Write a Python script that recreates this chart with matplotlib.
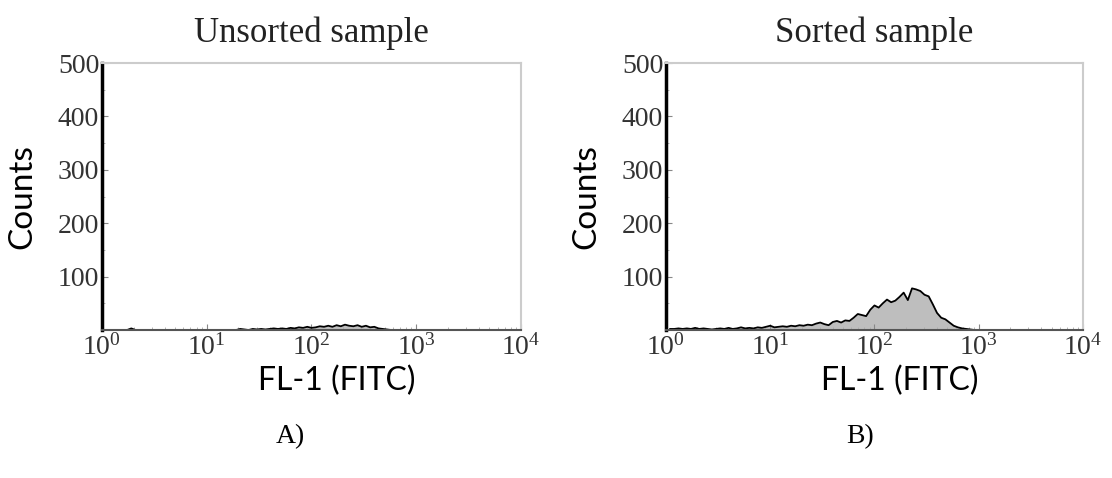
import matplotlib
matplotlib.use("Agg")
import matplotlib.pyplot as plt
import numpy as np

plt.rcParams['mathtext.fontset'] = 'custom'
plt.rcParams['mathtext.rm'] = 'Liberation Serif'
plt.rcParams['mathtext.it'] = 'Liberation Serif:italic'

# Гистограммы флуоресценции (лог-шаг каналов 0.04 декады, от 10^0)
channel_log = np.arange(0, 3.0, 0.04)

unsorted_counts = [520, 0, 0, 0, 0, 0, 0, 3, 0, 0,
                   0, 0, 0, 0, 0, 0, 0, 0, 0, 0,
                   0, 0, 0, 0, 0, 0, 0, 0, 0, 0,
                   0, 0, 0, 2, 1, 0, 2, 1, 2, 1,
                   2, 3, 2, 3, 2, 4, 3, 5, 4, 6,
                   4, 5, 7, 6, 8, 6, 9, 7, 10, 8,
                   7, 9, 6, 8, 5, 6, 3, 2, 1, 0,
                   0, 0, 0, 0, 0]

sorted_counts = [3, 2, 2, 3, 2, 3, 2, 4, 2, 3,
                 2, 1, 2, 3, 2, 4, 2, 3, 5, 3,
                 4, 3, 5, 4, 6, 8, 5, 6, 7, 6,
                 8, 7, 9, 8, 10, 9, 12, 14, 11, 9,
                 15, 17, 14, 18, 17, 23, 30, 28, 26, 38,
                 46, 42, 50, 57, 52, 55, 62, 70, 56, 78,
                 76, 73, 66, 63, 48, 32, 23, 20, 14, 8,
                 5, 3, 2, 1, 0]

titles = ['Unsorted sample', 'Sorted sample']
panel_labels = ['A)', 'B)']
y_ticks = [100, 200, 300, 400, 500]
x_ticks = [1, 10, 100, 1000, 10000]
x_tick_labels = ['$10^{0}$', '$10^{1}$', '$10^{2}$', '$10^{3}$', '$10^{4}$']

fig = plt.figure(figsize=(11.12, 4.78), dpi=100)
positions = [[0.0917, 0.3096, 0.3768, 0.5586],
             [0.5989, 0.3096, 0.3750, 0.5586]]
label_x = [0.45, 0.465]

x_vals = 10 ** channel_log
for pos, counts, title, plabel, lx in zip(positions, [unsorted_counts, sorted_counts],
                                          titles, panel_labels, label_x):
    ax = fig.add_axes(pos)
    # первый канал (10^0) рисуем вертикальной линией, остальные — ломаной
    ax.vlines(x_vals[0], 0, counts[0], color='black', linewidth=2)
    ax.fill_between(x_vals[1:], counts[1:], color='#bebebe', linewidth=0)
    ax.plot(x_vals[1:], counts[1:], color='black', linewidth=1.3)

    ax.set_xscale('log')
    ax.set_xlim(1, 10000)
    ax.set_ylim(0, 500)
    ax.set_xticks(x_ticks)
    ax.set_xticklabels(x_tick_labels)
    ax.set_yticks(y_ticks)
    ax.set_yticks(np.arange(0, 501, 50), minor=True)

    ax.tick_params(axis='both', which='major', direction='in', length=4,
                   color='#888888', labelsize=20, labelcolor='#333333', pad=2)
    ax.tick_params(axis='both', which='minor', direction='in', length=2,
                   color='#aaaaaa')
    for lab in ax.get_yticklabels():
        lab.set_fontfamily('Liberation Serif')

    # Рамка: левая ось толстая чёрная, остальные светло-серые
    ax.spines['left'].set_color('black')
    ax.spines['left'].set_linewidth(2.5)
    ax.spines['bottom'].set_color('#555555')
    ax.spines['bottom'].set_linewidth(1.5)
    for side in ['top', 'right']:
        ax.spines[side].set_color('#cccccc')
        ax.spines[side].set_linewidth(1.5)

    ax.set_title(title, fontsize=25, family='Liberation Serif',
                 color='#222222', pad=15)
    ax.set_ylabel('Counts', fontsize=24, family='Lato')
    ax.yaxis.set_label_coords(-0.155, 0.5)
    ax.text(0.56, -0.19, 'FL-1 (FITC)', transform=ax.transAxes,
            ha='center', va='center', fontsize=23, family='Lato')
    ax.text(lx, -0.40, plabel, transform=ax.transAxes,
            ha='center', va='center', fontsize=20, family='Liberation Serif')

plt.savefig('out.png', dpi=100)
